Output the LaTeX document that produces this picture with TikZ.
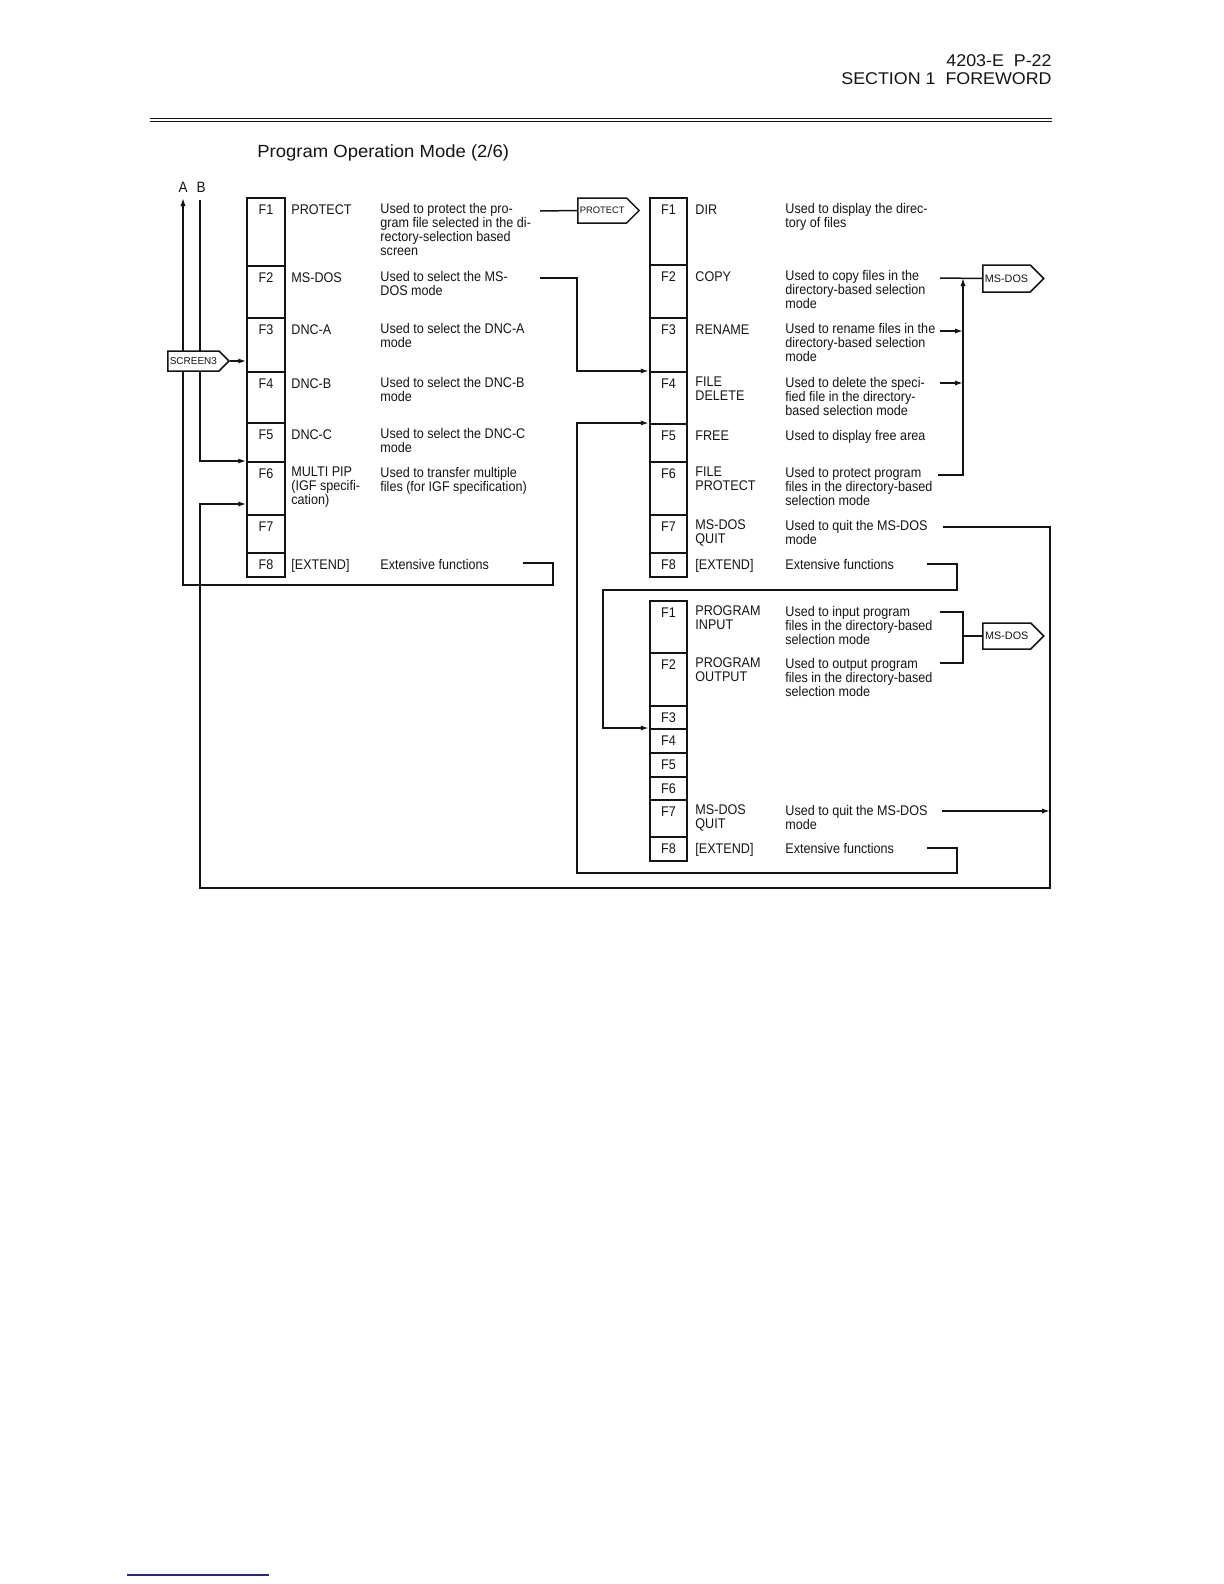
\documentclass[tikz,border=0pt]{standalone}
\usepackage{fontspec}
\setmainfont{Liberation Sans}
\newfontfamily\BodyFont[FakeStretch=0.9]{Liberation Sans}
\newfontfamily\HeadFont[FakeStretch=1.05]{Liberation Sans}
\usetikzlibrary{arrows.meta,shapes.symbols}
\definecolor{Ink}{HTML}{141414}
\definecolor{Pen}{HTML}{26268F}

\begin{document}
\begin{tikzpicture}[x=0.5pt,y=-0.5pt,
  cell/.style={draw=Ink,line width=1pt,minimum width=18.75pt,inner sep=0pt},
  key/.style={font=\BodyFont\fontsize{7}{7}\selectfont,Ink,inner sep=0pt,anchor=base},
  txt/.style={font=\BodyFont\fontsize{7}{7}\selectfont,Ink,inner sep=0pt,anchor=north west,align=left,
    execute at begin node={\rule{0pt}{6pt}}},
  head/.style={font=\HeadFont\fontsize{8.5}{9}\selectfont,Ink,inner sep=0pt},
  tag/.style={signal,signal to=east,signal pointer angle=90,line width=0.75pt,
    inner sep=1pt,anchor=west,minimum width=30.5pt,draw=Ink,text=Ink,fill=white},
  wire/.style={Ink,line width=0.75pt},
  arr/.style={wire,-{Latex[length=4pt,width=2.6pt]}}]
  \useasboundingbox (0,0) rectangle (1224,1584);
  \node[head,anchor=base east] (page) at (1052,67) {4203-E\ \ P-22};
  \node[head,anchor=base east] (sect) at (1052,85) {SECTION 1\ \ FOREWORD};
  \draw[Ink,line width=0.9pt] (150,118.5) -- (1052,118.5);
  \draw[Ink,line width=0.5pt] (150,121.5) -- (1052,121.5);
  \node[head,anchor=base west,font=\HeadFont\fontsize{8.8}{9}\selectfont] (title) at (257,157) {Program Operation Mode (2/6)};
  \node[key,font=\BodyFont\fontsize{7.5}{7.5}\selectfont] (A) at (183,192) {A};
  \node[key,font=\BodyFont\fontsize{7.5}{7.5}\selectfont] (B) at (201,192) {B};

  \foreach \i/\ya/\yb in {1/198/266,2/266/318,3/318/372,4/372/423,5/423/462,6/462/515,7/515/553,8/553/577} {
    \node[cell,minimum height={(\yb-\ya)*0.5pt}] (L\i) at (266,{(\ya+\yb)/2}) {};
    \node[key] (L\i f) at (266,\ya+16.5) {F\i};
  }
  \foreach \i/\ya/\yb in {1/198/265,2/265/318,3/318/372,4/372/424,5/424/462,6/462/515,7/515/553,8/553/577} {
    \node[cell,minimum height={(\yb-\ya)*0.5pt}] (R\i) at (668.5,{(\ya+\yb)/2}) {};
    \node[key] (R\i f) at (668.5,\ya+16.5) {F\i};
  }
  \foreach \i/\ya/\yb in {1/601/653,2/653/706,3/706/729,4/729/753,5/753/777,6/777/800,7/800/837,8/837/861} {
    \node[cell,minimum height={(\yb-\ya)*0.5pt}] (B\i) at (668.5,{(\ya+\yb)/2}) {};
    \node[key] (B\i f) at (668.5,\ya+16.5) {F\i};
  }

  \foreach \i/\ya/\nm/\ds in {
    1/198/PROTECT/{Used to protect the pro-\\gram file selected in the di-\\rectory-selection based\\screen},
    2/266/MS-DOS/{Used to select the MS-\\DOS mode},
    3/318/DNC-A/{Used to select the DNC-A\\mode},
    4/372/DNC-B/{Used to select the DNC-B\\mode},
    5/423/DNC-C/{Used to select the DNC-C\\mode},
    6/462/{MULTI PIP\\(IGF specifi-\\cation)}/{Used to transfer multiple\\files (for IGF specification)},
    8/553/[EXTEND]/{Extensive functions}} {
    \node[txt] (L\i n) at (291,\ya+4.5) {\nm};
    \node[txt] (L\i d) at (380,\ya+4.5) {\ds};
  }
  \foreach \i/\ya/\nm/\ds in {
    1/198/DIR/{Used to display the direc-\\tory of files},
    2/265/COPY/{Used to copy files in the\\directory-based selection\\mode},
    3/318/RENAME/{Used to rename files in the\\directory-based selection\\mode},
    4/372/{FILE\\DELETE}/{Used to delete the speci-\\fied file in the directory-\\based selection mode},
    5/424/FREE/{Used to display free area},
    6/462/{FILE\\PROTECT}/{Used to protect program\\files in the directory-based\\selection mode},
    7/515/{MS-DOS\\QUIT}/{Used to quit the MS-DOS\\mode},
    8/553/[EXTEND]/{Extensive functions}} {
    \node[txt] (R\i n) at (695,\ya+4.5) {\nm};
    \node[txt] (R\i d) at (785,\ya+4.5) {\ds};
  }
  \foreach \i/\ya/\nm/\ds in {
    1/601/{PROGRAM\\INPUT}/{Used to input program\\files in the directory-based\\selection mode},
    2/653/{PROGRAM\\OUTPUT}/{Used to output program\\files in the directory-based\\selection mode},
    7/800/{MS-DOS\\QUIT}/{Used to quit the MS-DOS\\mode},
    8/837/[EXTEND]/{Extensive functions}} {
    \node[txt] (B\i n) at (695,\ya+4.5) {\nm};
    \node[txt] (B\i d) at (785,\ya+4.5) {\ds};
  }

  \coordinate (Atop) at (183,198);
  \coordinate (Btop) at (200,200);
  \coordinate (Ld1) at (540,211);
  \coordinate (Ld2) at (540,278);
  \coordinate (Ld8) at (523,563);
  \coordinate (Rd2) at (940,278);
  \coordinate (Rd3) at (940,331);
  \coordinate (Rd4) at (940,383);
  \coordinate (Rd6) at (938,475);
  \coordinate (Rd7) at (943,527);
  \coordinate (Rd8) at (927,564);
  \coordinate (Bd1) at (940,612);
  \coordinate (Bd2) at (940,663);
  \coordinate (Bd7) at (942,811);
  \coordinate (Bd8) at (927,848);
  \coordinate (Rbus) at (963,475);
  \coordinate (Bbus) at (963,636);
  \coordinate (Rrail) at (1050,888);
  \coordinate (Lrail) at (200,504);
  \coordinate (Rloop) at (603,590);
  \coordinate (Bloop) at (577,873);

  \draw[arr] (Ld8) -- ++(30,0) -- ++(0,22) -| (Atop);
  \draw[arr] (Btop) |- (L6.north west);

  \node[tag,minimum height=10pt,font=\fontsize{5}{5}\selectfont] (screen) at (167,361) {SCREEN3};
  \node[tag,minimum height=12.5pt,font=\fontsize{4.7}{5}\selectfont] (protect) at (577,210.5) {PROTECT};
  \node[tag,minimum height=13.5pt,font=\fontsize{5.4}{6}\selectfont] (msdosA) at (982,278.5) {MS-DOS};
  \node[tag,minimum height=13pt,font=\fontsize{5.4}{6}\selectfont] (msdosB) at (982,636) {MS-DOS};

  \draw[arr] (screen.east) -- (screen.east -| L3.west);
  \draw[wire] (Ld1) -- (protect.west);
  \draw[arr] (Ld2) -- ++(37,0) |- (R4.north west);
  \draw[wire] (Rd2) -- (msdosA.west);
  \draw[arr] (Rd6) -| (Rd2 -| Rbus);
  \draw[arr] (Rd3) -- (Rd3 -| Rbus);
  \draw[arr] (Rd4) -- (Rd4 -| Rbus);
  \draw[arr] (Rd7) -| (Rrail) -| (Lrail) -- (Lrail -| L6.west);
  \draw[arr] (Rd8) -- ++(30,0) |- (Rloop) |- (B4.north west);
  \draw[wire] (Bd1) -| (Bbus) |- (Bd2);
  \draw[wire] (Bbus) -- (msdosB.west);
  \draw[arr] (Bd7) -- (Bd7 -| Rrail);
  \draw[arr] (Bd8) -- ++(30,0) |- (Bloop) |- (R5.north west);

  \draw[Pen,line width=1pt] (127,1575) -- (269,1575);
\end{tikzpicture}
\end{document}
